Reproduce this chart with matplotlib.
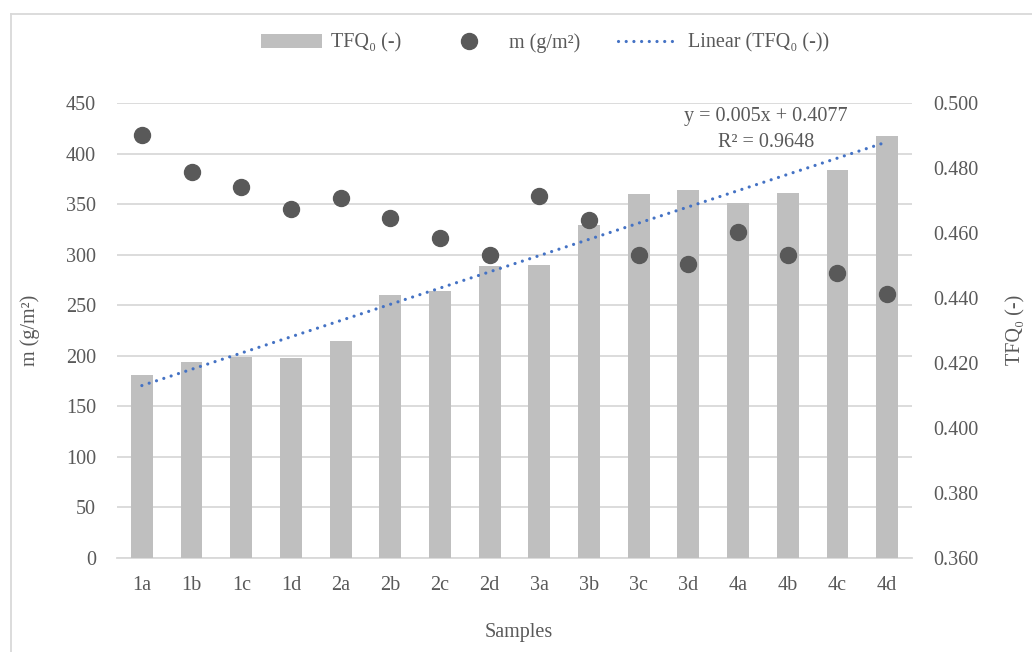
import numpy as np
import matplotlib
matplotlib.use('Agg')
import matplotlib.pyplot as plt
from matplotlib.lines import Line2D

plt.rcParams['font.family'] = ['Liberation Serif', 'DejaVu Serif']

# data
samples = ['1a', '1b', '1c', '1d', '2a', '2b', '2c', '2d',
           '3a', '3b', '3c', '3d', '4a', '4b', '4c', '4d']
tfq0 = [0.4163, 0.4203, 0.4219, 0.4216, 0.4269, 0.4409, 0.4421, 0.4499,
        0.4502, 0.4624, 0.4720, 0.4733, 0.4692, 0.4723, 0.4795, 0.4900]
mass = [418, 382, 367, 345, 356, 336, 316, 300,
        358, 334, 300, 291, 322, 300, 282, 261]
trend_text = ['y = 0.005x + 0.4077', 'R² = 0.9648']

txt = '#595959'
fs = 14.5
fig = plt.figure(figsize=(10.32, 6.52), dpi=100)
ax = fig.add_axes([117 / 1032, 1 - 558 / 652, 795 / 1032, 455 / 652])
ax2 = ax.twinx()

x = np.arange(len(samples))

# left axis: grid + ticks
ax.set_ylim(0, 450)
ax.set_yticks(np.arange(0, 451, 50))
ax.set_xlim(-0.5, len(samples) - 0.5)
ax.yaxis.grid(True, color='#D9D9D9', linewidth=1.3)
ax.set_axisbelow(True)

# bars on the right axis
ax2.bar(x, tfq0, width=0.44, color='#BFBFBF', zorder=2, label='TFQ₀ (-)')
ax2.set_ylim(0.36, 0.50)
ax2.set_yticks(np.arange(0.36, 0.5001, 0.02))
ax2.set_yticklabels(['%.3f' % v for v in np.arange(0.36, 0.5001, 0.02)])

# linear trend of TFQ0 (Excel uses x = 1..n)
xn = x + 1
k, b = np.polyfit(xn, tfq0, 1)
ax2.plot(x, k * xn + b, color='#4472C4', linewidth=2.3,
         linestyle=(0, (0.01, 2.4)), dash_capstyle='round', zorder=3,
         label='Linear (TFQ₀ (-))')

# mass dots drawn in the left-axis scale but above the bars
dots, = ax2.plot(x, mass, 'o', color='#595959', markersize=11.5,
                 transform=ax.transData, zorder=4, label='m (g/m²)')
ax2.set_ylim(0.36, 0.50)
ax2.set_xlim(-0.5, len(samples) - 0.5)

for a in (ax, ax2):
    for s in a.spines.values():
        s.set_visible(False)
ax.spines['bottom'].set_visible(True)
ax.spines['bottom'].set_color('#D9D9D9')
ax.spines['bottom'].set_linewidth(1.3)

ax.set_xticks(x)
ax.set_xticklabels(samples)
ax.tick_params(axis='x', length=0, pad=13, labelsize=fs, labelcolor=txt)
ax.tick_params(axis='y', length=0, pad=15, labelsize=fs, labelcolor=txt)
ax2.tick_params(axis='y', length=0, pad=15, labelsize=fs, labelcolor=txt)

fig.text(30 / 1032, 1 - 330 / 652, 'm (g/m²)', rotation=90, ha='center',
         va='center', fontsize=fs, color=txt)
fig.text(1016 / 1032, 1 - 330 / 652, 'TFQ₀ (-)', rotation=90, ha='center',
         va='center', fontsize=fs, color=txt)
fig.text(519 / 1032, 1 - 632 / 652, 'Samples', ha='center', va='center',
         fontsize=fs, color=txt)

fig.text(766 / 1032, 1 - 116 / 652, trend_text[0], ha='center', va='center',
         fontsize=fs, color=txt)
fig.text(766 / 1032, 1 - 143 / 652, trend_text[1], ha='center', va='center',
         fontsize=fs, color=txt)

# legend
h, l = ax2.get_legend_handles_labels()
order = [l.index('TFQ₀ (-)'), l.index('m (g/m²)'), l.index('Linear (TFQ₀ (-))')]
leg = fig.legend([h[i] for i in order], [l[i] for i in order], loc='center',
                 bbox_to_anchor=(545 / 1032, 1 - 43 / 652), ncol=3,
                 frameon=False, fontsize=fs, handlelength=3.0,
                 handleheight=0.65, handletextpad=0.45, columnspacing=1.9,
                 labelcolor=txt)

# chart frame (top and left edges visible)
fig.add_artist(Line2D([11 / 1032, 11 / 1032], [0, 1 - 14 / 652],
                      transform=fig.transFigure, color='#D9D9D9', linewidth=1.3))
fig.add_artist(Line2D([11 / 1032, 1], [1 - 14 / 652, 1 - 14 / 652],
                      transform=fig.transFigure, color='#D9D9D9', linewidth=1.3))

fig.savefig('out.png', dpi=100)
